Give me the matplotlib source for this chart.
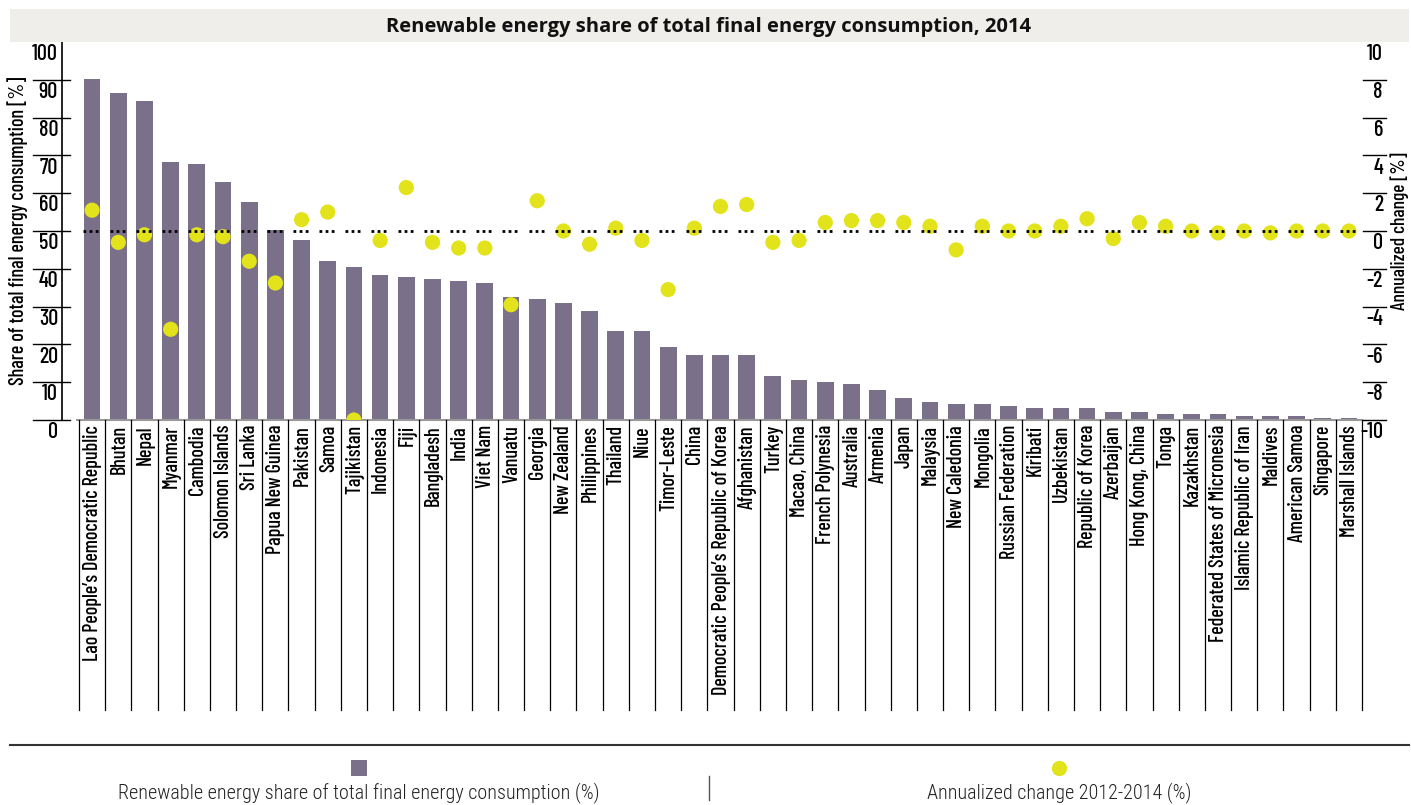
import matplotlib.pyplot as plt
import matplotlib.transforms as mtransforms
from matplotlib.patches import Rectangle
from matplotlib.lines import Line2D

countries = ["Lao People\u2019s Democratic Republic", "Bhutan", "Nepal", "Myanmar", "Cambodia",
             "Solomon Islands", "Sri Lanka", "Papua New Guinea", "Pakistan", "Samoa",
             "Tajikistan", "Indonesia", "Fiji", "Bangladesh", "India", "Viet Nam", "Vanuatu",
             "Georgia", "New Zealand", "Philippines", "Thailand", "Niue", "Timor-Leste", "China",
             "Democratic People\u2019s Republic of Korea", "Afghanistan", "Turkey", "Macao, China",
             "French Polynesia", "Australia", "Armenia", "Japan", "Malaysia", "New Caledonia",
             "Mongolia", "Russian Federation", "Kiribati", "Uzbekistan", "Republic of Korea",
             "Azerbaijan", "Hong Kong, China", "Tonga", "Kazakhstan",
             "Federated States of Micronesia", "Islamic Republic of Iran", "Maldives",
             "American Samoa", "Singapore", "Marshall Islands"]
share = [90.2, 86.5, 84.4, 68.3, 67.7, 63.0, 57.7, 50.3, 47.6, 42.1,
         40.5, 38.4, 37.8, 37.3, 36.8, 36.2, 32.5, 32.0, 31.0, 28.8,
         23.5, 23.5, 19.3, 17.2, 17.2, 17.2, 11.6, 10.6, 10.1, 9.5,
         7.9, 5.8, 4.8, 4.2, 4.2, 3.7, 3.2, 3.2, 3.2, 2.1,
         2.1, 1.6, 1.6, 1.6, 1.1, 1.1, 1.1, 0.5, 0.5]
change = [1.1, -0.6, -0.2, -5.2, -0.2, -0.3, -1.6, -2.75, 0.6, 1.0,
          -10.0, -0.5, 2.3, -0.6, -0.9, -0.9, -3.9, 1.6, 0.0, -0.7,
          0.15, -0.5, -3.1, 0.15, 1.3, 1.4, -0.6, -0.5, 0.45, 0.55,
          0.55, 0.45, 0.25, -1.0, 0.25, 0.0, 0.0, 0.25, 0.65, -0.4,
          0.45, 0.25, 0.0, -0.1, 0.0, -0.1, 0.0, 0.0, 0.0]
left_ticks = [0, 10, 20, 30, 40, 50, 60, 70, 80, 90]
left_labels = ["0", "10", "20", "30", "40", "50", "60", "70", "80", "90", "100"]
right_ticks = [-10, -8, -6, -4, -2, 0, 2, 4, 6, 8]
right_labels = ["-10", "-8", "-6", "-4", "-2", "0", "2", "4", "6", "8", "10"]

bar_col = "#7a7089"
dot_col = "#e2e31b"
narrow = ["Barlow Condensed", "Roboto Condensed", "DejaVu Sans"]
legend_font = ["Roboto Condensed", "DejaVu Sans"]

W, H = 1411, 805
fig = plt.figure(figsize=(W / 100, H / 100), dpi=100)

def fx(px):
    return px / W

def fy(py):
    return 1 - py / H

# title band
fig.patches.append(Rectangle((fx(10), fy(42)), fx(1399), 33 / H, transform=fig.transFigure,
                             facecolor="#efeeea", edgecolor="none"))
fig.text(fx(709), fy(27), "Renewable energy share of total final energy consumption, 2014",
         ha="center", va="center", fontsize=14.5, fontweight="bold",
         family=["Open Sans", "DejaVu Sans"], color="#111111")

x0, x1, ytop, ybot = 79, 1362, 42, 420
ax = fig.add_axes([fx(x0), fy(ybot), fx(x1 - x0), (ybot - ytop) / H])
n = len(countries)
xs = list(range(n))
ax.bar(xs, share, width=0.64, color=bar_col, zorder=2)
ax.set_xlim(-0.5, n - 0.5)
ax.set_ylim(0, 100)
for s in ax.spines.values():
    s.set_visible(False)
ax.set_xticks([])
ax.set_yticks([])

axw = x1 - x0
axh = ybot - ytop
trl = mtransforms.blended_transform_factory(ax.transAxes, ax.transData)
# left spine and ticks
ax.add_line(Line2D([-17 / axw, -17 / axw], [0, 100], transform=trl, color="black", lw=1.2, clip_on=False))
for v in left_ticks:
    ax.add_line(Line2D([-46 / axw, -9 / axw], [v, v], transform=trl, color="black", lw=1.0, clip_on=False))
for v, lab in zip(left_ticks + [100], left_labels):
    ax.text(-21 / axw, v - 0.6, lab, transform=trl, ha="right", va="top", fontsize=16,
            fontweight="medium", family=narrow)
ax.text(-61 / axw, 0.5, "Share of total final energy consumption [%]", transform=ax.transAxes,
        rotation=90, ha="center", va="center", fontsize=14.5, fontweight="medium", family=narrow)

# baseline
ax.add_line(Line2D([-2 / axw, 1.0], [0, 0], transform=ax.transAxes, color="#999999", lw=1.5, clip_on=False))

# category boxes and labels
trc = mtransforms.blended_transform_factory(ax.transData, ax.transAxes)
for i in range(n + 1):
    ax.add_line(Line2D([i - 0.5, i - 0.5], [0, -290 / axh], transform=trc, color="black", lw=0.9, clip_on=False))
for i, name in enumerate(countries):
    ax.text(i + 0.02, -5 / axh, name, transform=trc, rotation=90, ha="center", va="top",
            fontsize=14.5, fontweight="medium", family=narrow)

# annualized change
ax2 = ax.twinx()
ax2.set_ylim(-10, 10)
for s in ax2.spines.values():
    s.set_visible(False)
ax2.set_yticks([])
ax2.scatter(xs, change, s=120, color=dot_col, edgecolors="none", zorder=3)
ax2.hlines([0] * n, [x - 0.33 for x in xs], [x + 0.33 for x in xs], colors="black",
           linestyles=(0, (1, 1.2)), lw=2, zorder=4)
trr = mtransforms.blended_transform_factory(ax2.transAxes, ax2.transData)
for v in right_ticks:
    ax2.add_line(Line2D([1 + 1 / axw, 1 + 24 / axw], [v, v], transform=trr, color="black", lw=1.0, clip_on=False))
for v, lab in zip(right_ticks + [10], right_labels):
    ax2.text(1 + 21 / axw, v - 0.12, lab, transform=trr, ha="right", va="top", fontsize=16,
             fontweight="medium", family=narrow)
ax2.text(1 + 38 / axw, 0, "Annualized change [%]", transform=trr, rotation=90,
         ha="center", va="center", fontsize=14, fontweight="medium", family=narrow)

# legend
fig.add_artist(Line2D([fx(10), fx(1409)], [fy(745), fy(745)], transform=fig.transFigure, color="#333333", lw=1.5))
fig.add_artist(Line2D([fx(709), fx(709)], [fy(776), fy(800)], transform=fig.transFigure, color="#555555", lw=1.0))
fig.patches.append(Rectangle((fx(351), fy(776)), 16 / W, 16 / H, transform=fig.transFigure,
                             facecolor=bar_col, edgecolor="none"))
fig.add_artist(Line2D([fx(1059)], [fy(768)], transform=fig.transFigure, marker="o", markersize=11,
                      color=dot_col, markeredgecolor="none", lw=0))
fig.text(fx(359), fy(793), "Renewable energy share of total final energy consumption (%)",
         ha="center", va="center", fontsize=14.5, fontweight="light", family=legend_font, color="#222222")
fig.text(fx(1059), fy(793), "Annualized change 2012-2014 (%)",
         ha="center", va="center", fontsize=14.5, fontweight="light", family=legend_font, color="#222222")

fig.savefig("out.png", dpi=100)
